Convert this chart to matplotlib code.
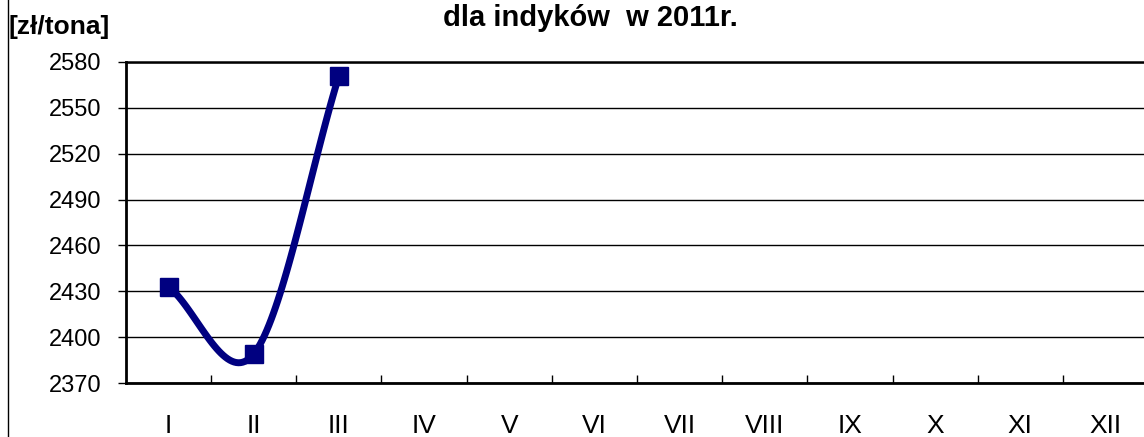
import numpy as np
import matplotlib
matplotlib.use("Agg")
import matplotlib.pyplot as plt

plt.rcParams["font.family"] = ["Liberation Sans", "DejaVu Sans"]

# --- data ------------------------------------------------------------
MONTHS = ["I", "II", "III", "IV", "V", "VI", "VII", "VIII", "IX", "X", "XI", "XII"]
PRICES = [2433, 2389, 2571]          # only Jan-Mar reported
Y_TICKS = [2370, 2400, 2430, 2460, 2490, 2520, 2550, 2580]


def smooth(xs, ys, n=40):
    """Catmull-Rom style curve through the points (like Excel's smoothed line)."""
    px = np.concatenate([[2 * xs[0] - xs[1]], xs, [2 * xs[-1] - xs[-2]]])
    py = np.concatenate([[2 * ys[0] - ys[1]], ys, [2 * ys[-1] - ys[-2]]])
    out_x, out_y = [], []
    t = np.linspace(0, 1, n)
    for i in range(1, len(px) - 2):
        p0, p1, p2, p3 = (np.array([px[j], py[j]]) for j in range(i - 1, i + 3))
        c1 = p1 + (p2 - p0) / 6
        c2 = p2 - (p3 - p1) / 6
        pts = (((1 - t) ** 3)[:, None] * p1 + (3 * (1 - t) ** 2 * t)[:, None] * c1
               + (3 * (1 - t) * t ** 2)[:, None] * c2 + (t ** 3)[:, None] * p2)
        out_x.extend(pts[:, 0])
        out_y.extend(pts[:, 1])
    return np.array(out_x), np.array(out_y)


fig = plt.figure(figsize=(11.44, 4.37), dpi=100)
ax = fig.add_axes([126 / 1144, 1 - 383 / 437, (1148 - 126) / 1144, (383 - 62) / 437])

x = np.arange(len(PRICES), dtype=float)
sx, sy = smooth(x, np.array(PRICES, dtype=float))
ax.plot(sx, sy, color="#000080", linewidth=5, solid_capstyle="round", zorder=3)
ax.plot(x, PRICES, linestyle="none", marker="s", markersize=12.5,
        color="#000080", zorder=4)

ax.set_xlim(-0.5, len(MONTHS) - 0.5)
ax.set_ylim(Y_TICKS[0], Y_TICKS[-1])
ax.set_yticks(Y_TICKS)
ax.set_xticks(range(len(MONTHS)))
ax.set_xticklabels(MONTHS)
ax.set_xticks(np.arange(0.5, len(MONTHS) - 0.5), minor=True)
ax.tick_params(axis="x", which="major", length=0, pad=22, labelsize=19)
ax.tick_params(axis="x", which="minor", direction="in", length=6, width=1)
ax.tick_params(axis="y", direction="out", length=6, width=1, labelsize=17, pad=12)
ax.yaxis.grid(True, color="black", linewidth=1)
ax.set_axisbelow(True)

for side in ("left", "bottom"):
    ax.spines[side].set_linewidth(2)
ax.spines["top"].set_linewidth(1.8)
ax.spines["right"].set_visible(False)

fig.text(590 / 1144, 1 - 18 / 437, "dla indyków  w 2011r.", ha="center", va="center",
         fontsize=21, fontweight="bold")
fig.text(9 / 1144, 1 - 27 / 437, "[zł/tona]", ha="left", va="center",
         fontsize=19, fontweight="bold")

# border of the chart area (only the left edge is in view)
fig.add_artist(plt.Line2D([8 / 1144, 8 / 1144], [0, 1], color="black", linewidth=1))

fig.savefig("out.png", dpi=100)
